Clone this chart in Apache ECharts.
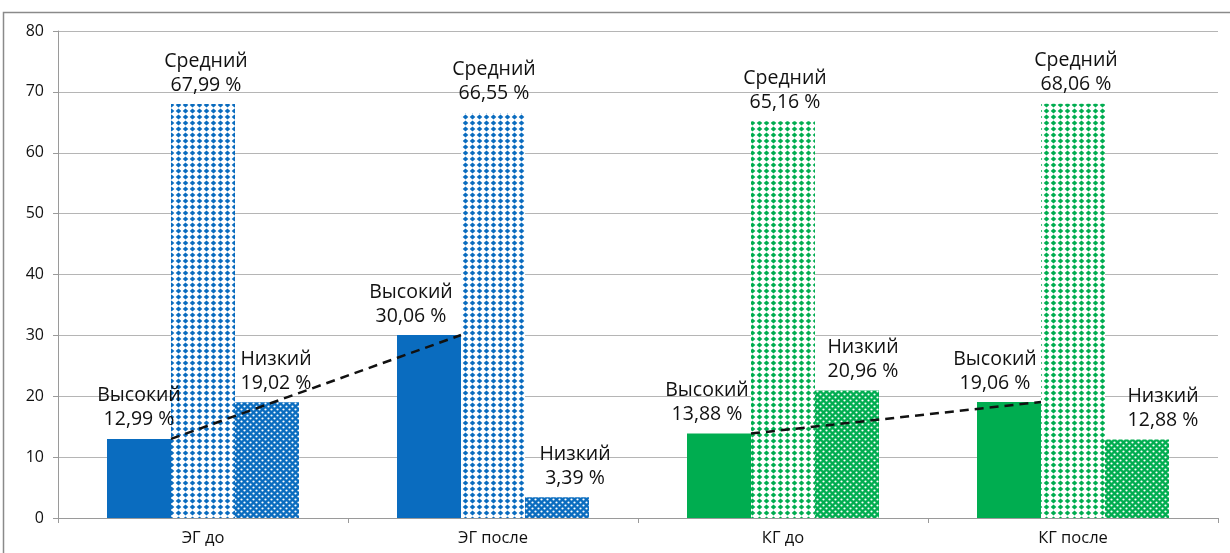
<!DOCTYPE html>
<html>
<head>
<meta charset="utf-8">
<script src="https://cdn.jsdelivr.net/npm/echarts@6/dist/echarts.min.js"></script>
<style>
  html, body { margin: 0; padding: 0; background: #fff; }
  #main { width: 1230px; height: 553px; }
</style>
</head>
<body>
<div id="main"></div>
<script>
// данные диаграммы
var categories = ['ЭГ до', 'ЭГ после', 'КГ до', 'КГ после'];
var levelNames = ['Высокий', 'Средний', 'Низкий'];
var vysokiy = [12.99, 30.06, 13.88, 19.06];
var sredniy = [67.99, 66.55, 65.16, 68.06];
var nizkiy = [19.02, 3.39, 20.96, 12.88];
var yTicks = [0, 10, 20, 30, 40, 50, 60, 70, 80];
// пары категорий для пунктирной линии (до -> после)
var trendPairs = [[0, 1], [2, 3]];

// оформление
var groupColor = ['#0a6cbf', '#0a6cbf', '#00ad50', '#00ad50'];
var barW = 64;
// ручные сдвиги подписей, как в оригинале
var labelShift = {
  'Высокий': [[0, 0], [-18, 0], [-12, 0], [-14, 0]],
  'Средний': [[3, 0], [1, 0], [2, 0], [3, 0]],
  'Низкий': [[9, 0], [18, 0], [16, 0], [26, 0]]
};

function dotPattern(color) {
  var c = document.createElement('canvas');
  c.width = 7; c.height = 6;
  var ctx = c.getContext('2d');
  ctx.fillStyle = '#fff';
  ctx.fillRect(0, 0, 7, 6);
  ctx.fillStyle = color;
  ctx.beginPath();
  ctx.moveTo(3.5, 0.4);
  ctx.lineTo(6.3, 3);
  ctx.lineTo(3.5, 5.6);
  ctx.lineTo(0.7, 3);
  ctx.closePath();
  ctx.fill();
  return c;
}

function checkPattern(color) {
  var c = document.createElement('canvas');
  c.width = 6; c.height = 6;
  var ctx = c.getContext('2d');
  ctx.fillStyle = color;
  ctx.fillRect(0, 0, 6, 6);
  ctx.fillStyle = '#fff';
  ctx.beginPath(); ctx.arc(1.5, 1.5, 1.1, 0, Math.PI * 2); ctx.fill();
  ctx.beginPath(); ctx.arc(4.5, 4.5, 1.1, 0, Math.PI * 2); ctx.fill();
  return c;
}

function fmt(v) {
  return v.toFixed(2).replace('.', ',') + ' %';
}

function makeData(values, name, kind) {
  return values.map(function (v, i) {
    var fill;
    if (kind === 'solid') fill = groupColor[i];
    else if (kind === 'dots') fill = { image: dotPattern(groupColor[i]), repeat: 'repeat' };
    else fill = { image: checkPattern(groupColor[i]), repeat: 'repeat' };
    return {
      value: v,
      itemStyle: { color: fill },
      label: { offset: labelShift[name][i] }
    };
  });
}

var labelStyle = {
  show: true,
  position: 'top',
  distance: 7,
  fontFamily: 'Open Sans',
  fontSize: 19.5,
  lineHeight: 24,
  color: '#111',
  formatter: function (p) { return p.seriesName + '\n' + fmt(p.value); }
};

var myChart = echarts.init(document.getElementById('main'));

var option = {
  animation: false,
  graphic: [{
    type: 'rect',
    shape: { x: 3.5, y: 12.5, width: 1260, height: 600 },
    style: { fill: 'none', stroke: '#8a8a8a', lineWidth: 1.5 },
    silent: true
  }],
  grid: { left: 58, right: 12, top: 31, bottom: 35 },
  xAxis: {
    type: 'category',
    data: categories,
    axisLine: { lineStyle: { color: '#9a9a9a' } },
    axisTick: { show: true, length: 5, lineStyle: { color: '#9a9a9a' } },
    axisLabel: { fontFamily: 'Open Sans', fontSize: 16.5, color: '#111', margin: 12 }
  },
  yAxis: {
    type: 'value',
    min: yTicks[0],
    max: yTicks[yTicks.length - 1],
    interval: yTicks[1] - yTicks[0],
    axisLine: { show: true, lineStyle: { color: '#9a9a9a' } },
    axisTick: { show: true, length: 5, lineStyle: { color: '#9a9a9a' } },
    axisLabel: { fontFamily: 'Open Sans', fontSize: 16, color: '#111', margin: 14 },
    splitLine: { lineStyle: { color: '#b5b5b5', width: 1.2 } }
  },
  series: [
    {
      name: levelNames[0], type: 'bar', barWidth: barW, barGap: '0%',
      data: makeData(vysokiy, levelNames[0], 'solid'), label: labelStyle
    },
    {
      name: levelNames[1], type: 'bar', barWidth: barW, barGap: '0%',
      data: makeData(sredniy, levelNames[1], 'dots'), label: labelStyle
    },
    {
      name: levelNames[2], type: 'bar', barWidth: barW, barGap: '0%',
      data: makeData(nizkiy, levelNames[2], 'check'), label: labelStyle
    },
    {
      // пунктир между верхними правыми углами столбцов "Высокий"
      type: 'custom',
      z: 10,
      data: trendPairs.map(function (p) {
        return [p[0], vysokiy[p[0]], p[1], vysokiy[p[1]]];
      }),
      renderItem: function (params, api) {
        var a = api.coord([api.value(0), api.value(1)]);
        var b = api.coord([api.value(2), api.value(3)]);
        var dx = -barW / 2;
        return {
          type: 'line',
          shape: { x1: a[0] + dx, y1: a[1], x2: b[0] + dx, y2: b[1] },
          style: { stroke: '#111', lineWidth: 2.5, lineDash: [9, 6] }
        };
      }
    }
  ]
};

myChart.setOption(option);
</script>
</body>
</html>
